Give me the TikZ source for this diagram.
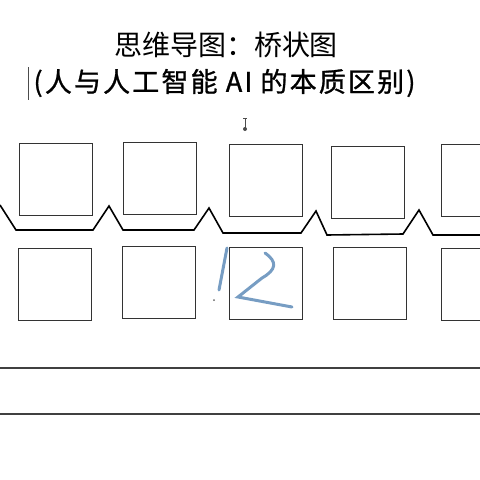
\documentclass[tikz,border=0pt]{standalone}
\usepackage{fontspec}
\newfontfamily\cjk{Noto Sans CJK SC}
\newfontfamily\cjkwide[LetterSpace=8,FakeBold=1]{Noto Sans CJK SC}
\definecolor{inkblue}{RGB}{95,140,185}
\begin{document}
\begin{tikzpicture}[x=1pt,y=-1pt,
		box/.style={draw=black!80,line width=1pt,minimum width=73pt,minimum height=72pt,inner sep=0pt},
		bridge/.style={line width=1.6pt,line join=miter},
		rule/.style={draw=black!75,line width=1.2pt},
		stroke/.style={inkblue,line width=3pt,line cap=round,opacity=0.85}]
		\useasboundingbox (0,0) rectangle (480,480);
		\clip (0,0) rectangle (480,480);
		% titles
		\node (T1) at (226,45) {\cjk\fontsize{28pt}{30pt}\selectfont 思维导图：桥状图};
		\node (T2) at (224.5,83) {\cjkwide\fontsize{27pt}{30pt}\selectfont (人与人工智能 AI 的本质区别)};
		\coordinate (BarA) at (28,67);
		\coordinate (BarB) at (28,100);
		\draw[line width=0.8pt,black!70] (BarA) to (BarB);
		% cursor mark
		\draw[line width=0.7pt,black!70] (243,118) to (247,118);
		\draw[line width=0.8pt,black!70] (245,118) to (245,128);
		\fill[black!70] (245,129) circle (2pt);
		% upper row
		\node[box] (t1) at (55.5,179) {};
		\node[box] (t2) at (160,178.5) {};
		\node[box] (t3) at (265.5,180) {};
		\node[box] (t4) at (368,182) {};
		\node[box] (t5) at (477.5,180) {};
		% lower row
		\node[box] (b1) at (54.5,284) {};
		\node[box] (b2) at (159,282.5) {};
		\node[box] (b3) at (265.5,283) {};
		\node[box] (b4) at (369.5,283.5) {};
		\node[box] (b5) at (477.5,284.5) {};
		% bridge
		\coordinate (S) at (0,205);
		\coordinate (P1) at (109,206);
		\coordinate (P2) at (209,208);
		\coordinate (P3) at (316,211);
		\coordinate (P4) at (419,210);
		\coordinate (E) at (480,235);
		\draw[bridge] (S) -- (16,230) -- (93,230) -- (P1) -- (123,230) -- (194,230)
			-- (P2) -- (223,233) -- (301,233) -- (P3) -- (327,235) -- (403,234)
			-- (P4) -- (433,235) -- (E);
		% writing lines
		\coordinate (L1a) at (0,368);
		\coordinate (L1b) at (480,368);
		\coordinate (L2a) at (0,414);
		\coordinate (L2b) at (480,414);
		\draw[rule] (L1a) to (L1b);
		\draw[rule] (L2a) to (L2b);
		% handwritten strokes
		\draw[stroke] (227,248) to (219,290);
		\fill[black!60] (214,300) circle (1pt);
		\draw[stroke] (265,253) .. controls (278,262) and (276,270) .. (262,278)
			-- (238,297) -- (292,307);
	\end{tikzpicture}
\end{document}
